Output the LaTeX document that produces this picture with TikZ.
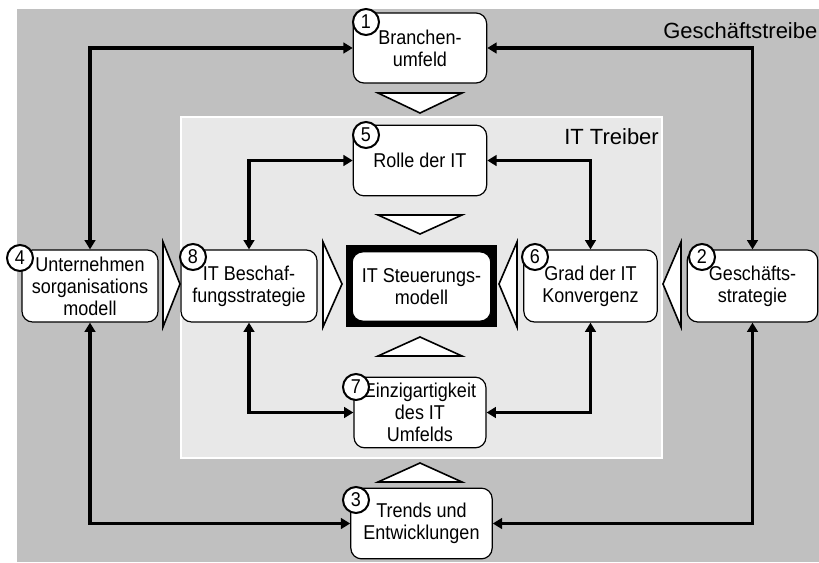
\documentclass[tikz,border=0pt]{standalone}
\usepackage{fontspec}
\setmainfont{Liberation Sans}
\newfontfamily\boxfont{Liberation Sans}[FakeStretch=0.9]
\usetikzlibrary{arrows.meta}
\definecolor{outergray}{HTML}{C0C0C0}
\definecolor{innergray}{HTML}{E8E8E8}
\tikzset{
	box/.style={draw, fill=white, line width=0.9pt, rounded corners=8pt, align=center, inner sep=0pt, font=\boxfont\fontsize{15}{16.5}\selectfont},
	numcircle/.style={circle, draw, fill=white, line width=1.5pt, minimum size=19.5pt, inner sep=0pt, font=\boxfont\fontsize{15}{15}\selectfont},
	link/.style={line width=2.3pt, line join=miter, {Triangle[length=7pt,width=8pt]}-{Triangle[length=7pt,width=8pt]}},
	bigarrow/.style={draw, fill=white, line width=1.2pt, line join=miter},
	heading/.style={inner sep=0pt, font=\fontsize{16.5}{18}\selectfont}
}

\begin{document}
\begin{tikzpicture}[x=0.75pt, y=-0.75pt]
	\useasboundingbox (0,0) rectangle (819,562);
	\fill[white] (0,0) rectangle (819,562);
	% panels
	\fill[outergray] (17,9) rectangle (819,562);
	\draw[white, line width=2pt, fill=innergray] (181,117) rectangle (662,458);
	\node[heading, anchor=base west] (bizlabel) at (663,38) {Geschäftstreibe};
	\node[heading, anchor=base west] (itlabel) at (564,144) {IT Treiber};

	% boxes
	\node[box, minimum width=100pt, minimum height=52.5pt] (b1) at (420,48) {Branchen-\\umfeld};
	\node[box, minimum width=98pt, minimum height=54pt] (b2) at (752.5,286) {Geschäfts-\\strategie};
	\node[box, minimum width=106pt, minimum height=53pt] (b3) at (421.5,523.5) {Trends und\\Entwicklungen};
	\node[box, minimum width=102pt, minimum height=54pt] (b4) at (90,286) {Unternehmen\\sorganisations\\modell};
	\node[box, minimum width=100pt, minimum height=53pt] (b5) at (420,160.5) {Rolle der IT};
	\node[box, minimum width=100pt, minimum height=54pt] (b6) at (590.5,286) {Grad der IT\\Konvergenz};
	\node[box, minimum width=99pt, minimum height=53pt] (b7) at (420,412.5) {Einzigartigkeit\\des IT\\Umfelds};
	\node[box, minimum width=102pt, minimum height=54pt] (b8) at (249,286) {IT Beschaf-\\fungsstrategie};
	\fill[black] (346,245) rectangle (497,327);
	\node[box, minimum width=104pt, minimum height=52pt] (core) at (421.5,286.5) {IT Steuerungs-\\modell};

	% numbers
	\node[numcircle] (n1) at (366,22) {1};
	\node[numcircle] (n2) at (702,257) {2};
	\node[numcircle] (n3) at (356,500) {3};
	\node[numcircle] (n4) at (20,258) {4};
	\node[numcircle] (n5) at (366,135) {5};
	\node[numcircle] (n6) at (535,257) {6};
	\node[numcircle] (n7) at (356,387) {7};
	\node[numcircle] (n8) at (193,257) {8};

	% connectors
	\draw[link] (b4.north) |- (b1.west);
	\draw[link] (b2.north) |- (b1.east);
	\draw[link] (b4.south) |- (b3.west);
	\draw[link] (b2.south) |- (b3.east);
	\draw[link] (b8.north) |- (b5.west);
	\draw[link] (b6.north) |- (b5.east);
	\draw[link] (b8.south) |- (b7.west);
	\draw[link] (b6.south) |- (b7.east);

	% big arrows
	\draw[bigarrow] (378,93) -- (462,93) -- (420,113) -- cycle;
	\draw[bigarrow] (378,215) -- (462,215) -- (420,234) -- cycle;
	\draw[bigarrow] (378,356) -- (462,356) -- (420,337) -- cycle;
	\draw[bigarrow] (378,482) -- (462,482) -- (420,463) -- cycle;
	\draw[bigarrow] (163,242) -- (163,327) -- (180,284) -- cycle;
	\draw[bigarrow] (323,242) -- (323,327) -- (342,284) -- cycle;
	\draw[bigarrow] (517,242) -- (517,327) -- (499,284) -- cycle;
	\draw[bigarrow] (681,242) -- (681,327) -- (663,284) -- cycle;
\end{tikzpicture}
\end{document}
